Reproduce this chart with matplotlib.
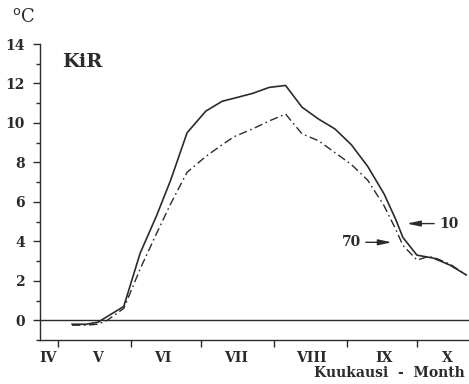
import matplotlib
matplotlib.use("Agg")
import matplotlib.pyplot as plt
from matplotlib.ticker import MultipleLocator

# Day of year positions and temperatures (°C)
days_10 = [127, 133, 138, 149, 156, 163, 169, 176, 184, 191, 196, 204, 211, 218,
           225, 232, 239, 246, 253, 260, 265, 268, 274, 281, 288, 295]
temp_10 = [-0.2, -0.2, -0.1, 0.7, 3.4, 5.3, 7.1, 9.5, 10.6, 11.1, 11.25, 11.5, 11.8, 11.9,
           10.8, 10.2, 9.7, 8.9, 7.8, 6.4, 5.1, 4.2, 3.3, 3.15, 2.8, 2.3]

days_70 = [127, 133, 138, 142, 149, 156, 163, 169, 176, 184, 191, 196, 204, 211, 218,
           225, 232, 239, 246, 253, 260, 265, 268, 274, 278, 281, 288, 295]
temp_70 = [-0.25, -0.25, -0.2, 0.0, 0.6, 2.6, 4.4, 5.9, 7.5, 8.3, 8.9, 9.3, 9.7, 10.1, 10.45,
           9.45, 9.1, 8.5, 7.9, 7.1, 5.8, 4.6, 3.8, 3.05, 3.2, 3.2, 2.85, 2.3]

month_bounds = [121, 152, 182, 213, 244, 274]
month_label_pos = [116.7, 138, 165.8, 196.9, 228.8, 260, 286.8]
month_labels = ["IV", "V", "VI", "VII", "VIII", "IX", "X"]

serif = ["DejaVu Serif"]
ink = "#2b2b2b"

fig = plt.figure(figsize=(4.69, 3.84), dpi=100)
ax = fig.add_axes([40/469, 1-340/384, 1-40/469, (340-44)/384])

ax.plot(days_10, temp_10, color=ink, lw=1.2, solid_joinstyle="round")
ax.plot(days_70, temp_70, color=ink, lw=1.0, linestyle=(0, (6, 2.5, 1.2, 2.5)))
ax.axhline(0, color=ink, lw=1.0)

ax.set_xlim(113.3, 296.2)
ax.set_ylim(-1, 14)

for s in ["top", "right"]:
    ax.spines[s].set_visible(False)
for s in ["left", "bottom"]:
    ax.spines[s].set_color(ink)
    ax.spines[s].set_linewidth(1.0)

ax.set_yticks([0, 2, 4, 6, 8, 10, 12, 14])
ax.yaxis.set_minor_locator(MultipleLocator(1))
ax.tick_params(axis="y", which="major", length=5, width=1, color=ink, direction="out",
               labelsize=10, pad=6)
ax.tick_params(axis="y", which="minor", length=3, width=1, color=ink, direction="out")
for lab in ax.get_yticklabels():
    lab.set_family(serif)
    lab.set_fontweight("bold")
    lab.set_color(ink)

ax.set_xticks(month_bounds)
ax.set_xticklabels([])
ax.set_xticks(month_label_pos, minor=True)
ax.set_xticklabels(month_labels, minor=True, family=serif, fontweight="bold",
                   fontsize=10, color=ink)
ax.tick_params(axis="x", which="major", length=5, width=1, color=ink, direction="out")
ax.tick_params(axis="x", which="minor", length=0, pad=8)

ax.text(0.052, 0.94, "KiR", transform=ax.transAxes, family=serif, fontweight="bold",
        fontsize=14, color=ink, va="center", ha="left")

fig.text(12/469, 1-17/384, r"$^{\mathrm{o}}$C", family=serif, fontsize=13, color=ink,
         va="center", ha="left")
fig.text(465/469, 1-373/384, "Kuukausi  -  Month", family=serif, fontsize=10,
         fontweight="bold", color=ink, va="center", ha="right")

# arrows with labels
ax.annotate("", xy=(268.5, 4.9), xytext=(282.5, 4.9),
            arrowprops=dict(arrowstyle="-|>,head_length=0.8,head_width=0.17", color=ink, lw=1.0))
ax.text(283.5, 4.9, "10", family=serif, fontweight="bold", fontsize=10, color=ink,
        va="center", ha="left")
ax.annotate("", xy=(264.5, 3.95), xytext=(251, 3.95),
            arrowprops=dict(arrowstyle="-|>,head_length=0.8,head_width=0.17", color=ink, lw=1.0))
ax.text(250, 3.95, "70", family=serif, fontweight="bold", fontsize=10, color=ink,
        va="center", ha="right")

fig.savefig("out.png", dpi=100)
